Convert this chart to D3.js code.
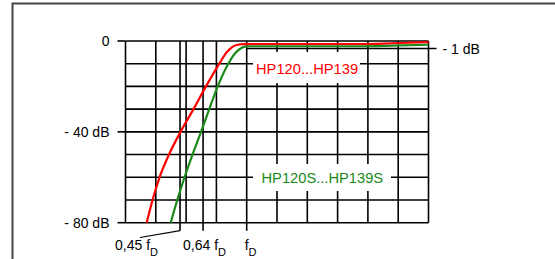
<!DOCTYPE html>
<html>
<head>
<meta charset="utf-8">
<script src="https://cdn.jsdelivr.net/npm/d3@7"></script>
<style>
	body { margin: 0; background: #fff; }
	text { font-family: "Liberation Sans", Arial, sans-serif; }
</style>
</head>
<body>
<div id="chart"></div>
<script>

// frequency in units of fD, attenuation in dB
var redFreq = [0.175, 0.223, 0.281, 0.359, 0.454, 0.561, 0.664, 0.774, 0.835, 0.877, 0.918, 0.972, 1.1, 1.5, 1.95, 2.2, 2.5];
var redDb   = [-80, -70, -60, -50, -40, -30, -20, -10, -3.25, -0.84, -0.53, -0.42, -0.4, -0.4, -0.4, -0.3, -0.15];
var greenFreq = [0.373, 0.427, 0.487, 0.553, 0.623, 0.691, 0.761, 0.848, 0.912, 0.953, 0.986, 1.027, 1.2, 1.6, 1.95, 2.2, 2.5];
var greenDb   = [-80, -70, -60, -50, -40, -30, -20, -10, -3.25, -0.97, -0.76, -0.7, -0.7, -0.7, -0.7, -0.62, -0.5];

var gridFreq = d3.range(0, 2.5001, 0.25);
var gridDb = [0, -10, -20, -30, -40, -50, -60, -70, -80];
var yTicks = [0, -40, -80];
var yTickLabels = ["0", "- 40 dB", "- 80 dB"];
var xMarks = [0.45, 0.64, 1];
var xMarkLabels = ["0,45 f", "0,64 f", "f"];
var limitDb = -1;
var limitLabel = "- 1 dB";
var seriesNames = ["HP120...HP139", "HP120S...HP139S"];

var W = 555, H = 259;
var svg = d3.select("#chart").append("svg")
	.attr("width", W)
	.attr("height", H);

var x = d3.scaleLinear().domain([0, 2.5]).range([125.5, 428.5]);
// top decade is stretched in the drawing so -1 dB sits below the 0 line
var y = d3.scaleLinear().domain([0, -1, -10, -80]).range([41, 48.5, 63.7, 222.7]);

// frame
svg.append("path")
	.attr("d", "M12.5," + H + "V3.5H" + W)
	.attr("fill", "none")
	.attr("stroke", "#444")
	.attr("stroke-width", 2);

var grid = svg.append("g")
	.attr("stroke", "#000")
	.attr("stroke-width", 1.6);

grid.selectAll(".vline")
	.data(gridFreq.concat([0.45, 0.64]))
	.enter().append("line")
	.attr("x1", function(d) { return x(d); })
	.attr("x2", function(d) { return x(d); })
	.attr("y1", y(0))
	.attr("y2", y(-80));

grid.selectAll(".hline")
	.data(gridDb)
	.enter().append("line")
	.attr("x1", x(0))
	.attr("x2", x(2.5))
	.attr("y1", function(d) { return y(d); })
	.attr("y2", function(d) { return y(d); });

// left ticks and labels
grid.selectAll(".ytick")
	.data(yTicks)
	.enter().append("line")
	.attr("x1", x(0) - 8)
	.attr("x2", x(0))
	.attr("y1", function(d) { return y(d); })
	.attr("y2", function(d) { return y(d); });

svg.selectAll(".ylab")
	.data(yTicks)
	.enter().append("text")
	.attr("x", x(0) - 16)
	.attr("y", function(d) { return y(d) + 5; })
	.attr("text-anchor", "end")
	.style("font-size", "14px")
	.text(function(d, i) { return yTickLabels[i]; });

// bottom marks
grid.selectAll(".xtick")
	.data(xMarks)
	.enter().append("line")
	.attr("x1", function(d) { return x(d); })
	.attr("x2", function(d) { return x(d); })
	.attr("y1", y(-80))
	.attr("y2", y(-80) + 8);

grid.append("line")
	.attr("x1", 140).attr("y1", 237.5)
	.attr("x2", x(0.45)).attr("y2", y(-80) + 8)
	.attr("stroke-width", 1.2);

var labOffset = [-65, -20, -2];
var xl = svg.selectAll(".xlab")
	.data(xMarks)
	.enter().append("text")
	.attr("x", function(d, i) { return x(d) + labOffset[i]; })
	.attr("y", 250)
	.style("font-size", "14px");
xl.append("tspan").text(function(d, i) { return xMarkLabels[i]; });
xl.append("tspan")
	.attr("dy", 6)
	.style("font-size", "11px")
	.text("D");

// -1 dB limit line
grid.append("line")
	.attr("x1", x(1))
	.attr("x2", x(2.5) + 8)
	.attr("y1", y(limitDb))
	.attr("y2", y(limitDb));

svg.append("text")
	.attr("x", x(2.5) + 14)
	.attr("y", y(limitDb) + 5)
	.style("font-size", "14px")
	.text(limitLabel);

// label boxes
var boxes = [
	{x0: 253, x1: 360, y0: 52, y1: 83, tx: 256, ty: 74, color: "#ff0000"},
	{x0: 253, x1: 391, y0: 164, y1: 191, tx: 261.5, ty: 183.3, color: "#1a8a1a"}
];
svg.selectAll(".box")
	.data(boxes)
	.enter().append("rect")
	.attr("x", function(d) { return d.x0; })
	.attr("y", function(d) { return d.y0; })
	.attr("width", function(d) { return d.x1 - d.x0; })
	.attr("height", function(d) { return d.y1 - d.y0; })
	.attr("fill", "#fff");

svg.selectAll(".name")
	.data(boxes)
	.enter().append("text")
	.attr("x", function(d) { return d.tx; })
	.attr("y", function(d) { return d.ty; })
	.attr("fill", function(d) { return d.color; })
	.style("font-size", "14.7px")
	.text(function(d, i) { return seriesNames[i]; });

// curves
var line = d3.line()
	.x(function(d) { return x(d[0]); })
	.y(function(d) { return y(d[1]); })
	.curve(d3.curveMonotoneX);

svg.append("path")
	.datum(greenFreq.map(function(f, i) { return [f, greenDb[i]]; }))
	.attr("d", line)
	.attr("fill", "none")
	.attr("stroke", "#1a8a1a")
	.attr("stroke-width", 2.2);

svg.append("path")
	.datum(redFreq.map(function(f, i) { return [f, redDb[i]]; }))
	.attr("d", line)
	.attr("fill", "none")
	.attr("stroke", "#ff0000")
	.attr("stroke-width", 2.2);

</script>
</body>
</html>
